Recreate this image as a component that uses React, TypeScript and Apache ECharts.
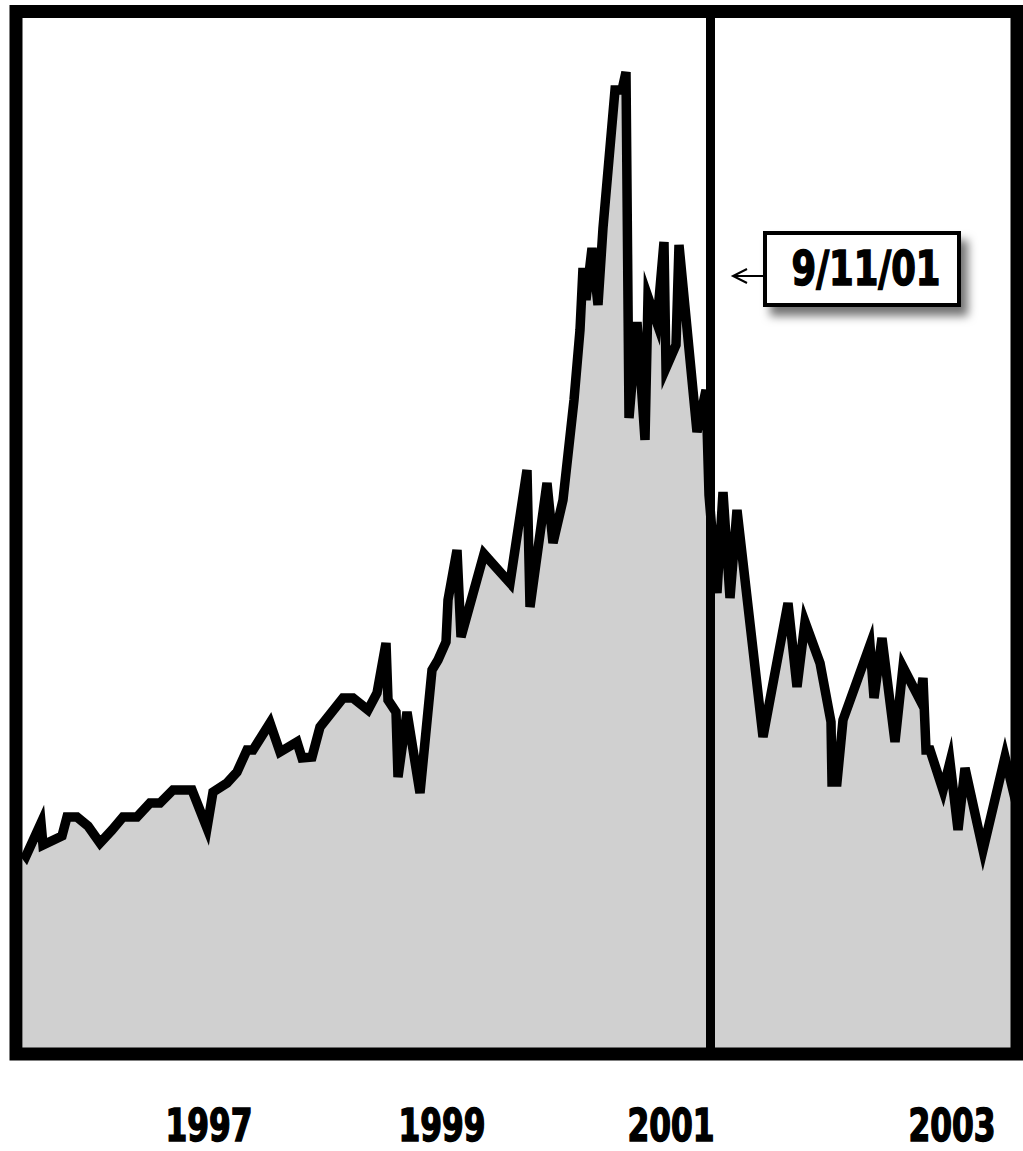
import React, { useEffect, useRef } from "react";
import * as echarts from "echarts";

// timeline position (0 = left edge of plot, 988 = right edge)
const timeline: number[] = [
  0, 3, 18, 20, 39, 44, 54, 65, 77, 89, 100, 114, 127, 137, 150, 169, 184, 190, 204, 214,
  224, 230, 247, 257, 274, 279, 289, 297, 320, 330, 345, 354, 363, 365, 373, 375, 384, 397, 409, 415,
  423, 425, 434, 438, 461, 487, 504, 507, 524, 530, 540, 551, 557, 560, 563, 569, 575, 580, 592, 599,
  603, 606, 614, 622, 625, 634, 641, 643, 653, 656, 674, 683, 686, 694, 700, 707, 714, 740, 765, 774,
  782, 797, 808, 809, 814, 820, 847, 851, 859, 872, 880, 897, 900, 903, 907, 920, 927, 935, 942, 960,
  982, 994,
];

// index level
const indexValues: number[] = [
  980, 960, 1125, 1015, 1060, 1155, 1155, 1110, 1025, 1090, 1155, 1155, 1225, 1225, 1290, 1290, 1100, 1280, 1325, 1380,
  1490, 1490, 1625, 1480, 1530, 1450, 1455, 1605, 1750, 1750, 1690, 1775, 2025, 1740, 1680, 1355, 1680, 1275, 1890, 1940,
  2030, 2240, 2490, 2055, 2470, 2325, 2890, 2205, 2825, 2525, 2740, 3240, 3590, 3900, 3740, 4000, 3715, 4100, 4790, 4790,
  4880, 3150, 3630, 3040, 3755, 3625, 4030, 3400, 3515, 4015, 3080, 3290, 2765, 2275, 2780, 2250, 2690, 1555, 2225, 1805,
  2130, 1925, 1630, 1330, 1330, 1640, 2015, 1750, 2050, 1530, 1905, 1740, 1850, 1490, 1490, 1290, 1430, 1090, 1400, 990,
  1455, 1205,
];

const yearLabels: string[] = ["1997", "1999", "2001", "2003"];
const yearPositions: number[] = [186, 419, 648, 929];

const eventLabel = "9/11/01";
const eventPosition = 687;

const FONT = '"DejaVu Sans Condensed", "DejaVu Sans", sans-serif';

export default function App() {
  const ref = useRef<HTMLDivElement>(null);

  useEffect(() => {
    if (!ref.current) return;
    const chart = echarts.init(ref.current, undefined, { renderer: "svg" });
    const data = timeline.map((t, i) => [t, indexValues[i]]);

    chart.setOption({
      animation: false,
      backgroundColor: "#ffffff",
      grid: { left: 20, top: 18, right: 9, bottom: 100, containLabel: false },
      xAxis: {
        type: "value",
        min: -3,
        max: 991,
        axisLine: { show: false },
        axisTick: { show: false },
        splitLine: { show: false },
        axisLabel: { show: false },
      },
      yAxis: {
        type: "value",
        min: -15,
        max: 5150,
        show: false,
        splitLine: { show: false },
      },
      series: [
        {
          type: "line",
          data,
          symbol: "none",
          clip: true,
          lineStyle: { color: "#000", width: 9.5, join: "miter", miterLimit: 6 },
          areaStyle: { color: "#d0d0d0", opacity: 1 },
          markLine: {
            silent: true,
            symbol: "none",
            label: { show: false },
            lineStyle: { color: "#000", width: 9, type: "solid" },
            data: [{ xAxis: eventPosition }],
          },
        },
      ],
    });

    const yearTexts = yearLabels.map((label, i) => {
      const px = chart.convertToPixel({ xAxisIndex: 0 }, yearPositions[i]) as number;
      return {
        type: "text",
        z: 100,
        x: px,
        y: 1125,
        scaleX: 0.79,
        style: {
          text: label,
          fontFamily: FONT,
          fontWeight: "bold",
          fontSize: 44,
          fill: "#000",
          stroke: "#000",
          lineWidth: 1.5,
          align: "center",
          verticalAlign: "middle",
        },
      };
    });

    chart.setOption({
      graphic: [
        {
          type: "rect",
          z: 100,
          shape: { x: 16, y: 11.5, width: 1001, height: 1042.5 },
          style: { fill: "none", stroke: "#000", lineWidth: 13 },
        },
        {
          type: "rect",
          z: 101,
          shape: { x: 765, y: 233, width: 194, height: 72 },
          style: {
            fill: "#fff",
            stroke: "#000",
            lineWidth: 4,
            shadowBlur: 10,
            shadowOffsetX: 7,
            shadowOffsetY: 9,
            shadowColor: "rgba(0,0,0,0.55)",
          },
        },
        {
          type: "text",
          z: 102,
          x: 866,
          y: 268,
          scaleX: 0.82,
          style: {
            text: eventLabel,
            fontFamily: FONT,
            fontWeight: "bold",
            fontSize: 48,
            fill: "#000",
            stroke: "#000",
            lineWidth: 1.5,
            align: "center",
            verticalAlign: "middle",
          },
        },
        {
          type: "line",
          z: 101,
          shape: { x1: 765, y1: 276, x2: 734, y2: 276 },
          style: { stroke: "#000", lineWidth: 2 },
        },
        {
          type: "polyline",
          z: 101,
          shape: { points: [[747, 269], [733, 276], [747, 283]] },
          style: { stroke: "#000", lineWidth: 2, fill: "none" },
        },
        ...yearTexts,
      ],
    });

    return () => chart.dispose();
  }, []);

  return (
    <div
      ref={ref}
      style={{ position: "absolute", left: 0, top: 0, width: 1023, height: 1151 }}
    />
  );
}
